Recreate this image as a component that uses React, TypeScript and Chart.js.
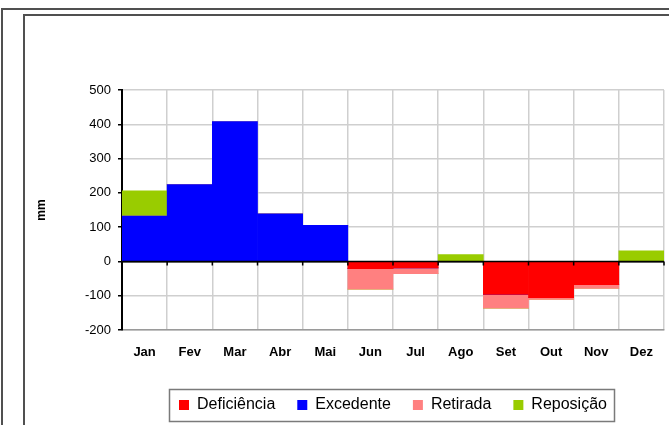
import React, { useEffect, useRef } from "react";
import { Chart, registerables } from "chart.js";

Chart.register(...registerables);

const months = ["Jan", "Fev", "Mar", "Abr", "Mai", "Jun", "Jul", "Ago", "Set", "Out", "Nov", "Dez"];
const deficiencia = [0, 0, 0, 0, 0, -21, -19, 0, -96, -106, -68, 0];
const excedente = [132, 224, 408, 139, 105, 0, 0, 0, 0, 0, 0, 0];
const retirada = [0, 0, 0, 0, 0, -60, -17, 0, -40, -5, -11, 0];
const reposicao = [74, 0, 0, 0, 0, 0, 0, 20, 0, 0, 0, 31];
const yMin = -200;
const yMax = 500;
const yStep = 100;

const FONT = "'Liberation Sans', Arial, sans-serif";

const zeroLinePlugin = {
  id: "zeroLine",
  afterDatasetsDraw(chart: any) {
    const { ctx, chartArea, scales } = chart;
    const y0 = scales.y.getPixelForValue(0);
    const xs = scales.x;
    ctx.save();
    ctx.strokeStyle = "#000";
    ctx.lineWidth = 1.5;
    ctx.beginPath();
    ctx.moveTo(chartArea.left, y0);
    ctx.lineTo(chartArea.right, y0);
    const n = months.length;
    const half = (xs.getPixelForValue(1) - xs.getPixelForValue(0)) / 2;
    for (let i = 0; i < n; i++) {
      const bx = xs.getPixelForValue(i) + half;
      ctx.moveTo(bx, y0);
      ctx.lineTo(bx, y0 + 4);
    }
    ctx.stroke();
    ctx.restore();
  },
  afterDraw(chart: any) {
    const lg = chart.legend;
    if (!lg || !lg.legendHitBoxes || !lg.legendHitBoxes.length) return;
    const hb = lg.legendHitBoxes;
    const first = hb[0];
    const last = hb[hb.length - 1];
    const cy = first.top + first.height / 2;
    const ctx = chart.ctx;
    ctx.save();
    ctx.strokeStyle = "#7a7a7a";
    ctx.lineWidth = 1.5;
    const left = Math.round(first.left - 10) + 0.5;
    const right = Math.round(last.left + last.width + 7) + 0.5;
    ctx.strokeRect(left, Math.round(cy - 16) + 0.5, right - left, 32);
    ctx.restore();
  },
};

export default function App() {
  const ref = useRef<HTMLCanvasElement | null>(null);
  useEffect(() => {
    document.body.style.margin = "0";
    const canvas = ref.current;
    if (!canvas) return;
    const chart = new Chart(canvas, {
      type: "bar",
      data: {
        labels: months,
        datasets: [
          { label: "Deficiência", data: deficiencia, backgroundColor: "#FF0000", borderWidth: 0 },
          { label: "Excedente", data: excedente, backgroundColor: "#0000FF", borderWidth: 0 },
          { label: "Retirada", data: retirada, backgroundColor: "#FF8080", borderWidth: 0 },
          { label: "Reposição", data: reposicao, backgroundColor: "#99CC00", borderWidth: 0 },
        ],
      },
      options: {
        responsive: false,
        animation: false,
        events: [],
        layout: { padding: { top: 90, right: 5, bottom: 2, left: 0 } },
        datasets: { bar: { barPercentage: 1, categoryPercentage: 1 } },
        plugins: {
          tooltip: { enabled: false },
          legend: {
            position: "bottom",
            fullSize: false,
            labels: {
              boxWidth: 10,
              boxHeight: 10,
              padding: 22,
              color: "#000",
              font: { family: FONT, size: 16 },
            },
          },
        },
        scales: {
          x: {
            stacked: true,
            grid: { color: "#cfcfcf", lineWidth: 1.5, drawTicks: false, offset: true },
            border: { color: "#9a9a9a", width: 1.5 },
            ticks: { color: "#000", padding: 15, font: { family: FONT, size: 13, weight: "bold" } },
            afterFit: (s: any) => { s.height = 45; },
          },
          y: {
            stacked: true,
            min: yMin,
            max: yMax,
            ticks: { stepSize: yStep, color: "#000", padding: 7, font: { family: FONT, size: 13 } },
            grid: {
              color: (c: any) => (c.tick && c.tick.value === 0 ? "#000" : "#cfcfcf"),
              lineWidth: 1.5,
              tickLength: 4,
              tickColor: "#000",
            },
            border: { color: "#000", width: 2 },
            title: {
              display: true,
              text: "mm",
              color: "#000",
              font: { family: FONT, size: 12, weight: "bold" },
              padding: { top: 34, bottom: 0 },
            },
            afterFit: (s: any) => { s.width = 122; },
          },
        },
      },
      plugins: [zeroLinePlugin],
    } as any);
    return () => chart.destroy();
  }, []);

  return (
    <div style={{ position: "relative", width: 669, height: 425, overflow: "hidden", background: "#fff" }}>
      <div style={{ position: "absolute", left: 1, top: 8, width: 700, height: 450, borderLeft: "2px solid #505050", borderTop: "2px solid #505050" }} />
      <div style={{ position: "absolute", left: 23, top: 14, width: 700, height: 450, borderLeft: "2px solid #505050", borderTop: "2px solid #505050" }} />
      <canvas ref={ref} width={669} height={425} style={{ position: "absolute", left: 0, top: 0 }} />
    </div>
  );
}
